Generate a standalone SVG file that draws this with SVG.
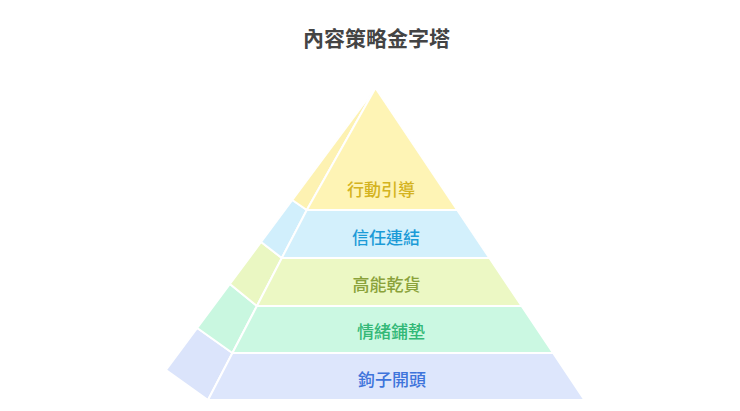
<svg xmlns="http://www.w3.org/2000/svg" width="740" height="411" viewBox="0 0 740 411">
<style>
.f{stroke:#ffffff;stroke-width:2;stroke-linejoin:round}
.t{font-family:"Noto Sans CJK TC","Noto Sans CJK SC",sans-serif;font-size:17px;font-weight:500;text-anchor:middle;dominant-baseline:central}
.title{font-family:"Noto Sans CJK TC","Noto Sans CJK SC",sans-serif;font-size:21px;font-weight:bold;fill:#444444;text-anchor:middle;dominant-baseline:central}
</style>
<rect width="740" height="411" fill="#ffffff"/>
<text class="title" x="376.5" y="37">內容策略金字塔</text>
<g id="layer5">
<polygon class="f" fill="#dbe4fb" points="197.2,328 232.4,353 208,400 166,370"/>
<polygon class="f" fill="#dde6fc" points="232.4,353 553.1,353 584.5,400 208,400"/>
<text class="t" x="392" y="378" fill="#3e74db">鉤子開頭</text>
</g>
<g id="layer4">
<polygon class="f" fill="#c9f7e0" points="229.9,284 256.9,306 232.4,353 197.2,328"/>
<polygon class="f" fill="#cbf8e2" points="256.9,306 521.6,306 553.1,353 232.4,353"/>
<text class="t" x="391" y="330" fill="#33b877">情緒鋪墊</text>
</g>
<g id="layer3">
<polygon class="f" fill="#eaf7c2" points="261.1,242 281.8,258 256.9,306 229.9,284"/>
<polygon class="f" fill="#ecf8c4" points="281.8,258 489.4,258 521.6,306 256.9,306"/>
<text class="t" x="386.5" y="283" fill="#8aa23a">高能乾貨</text>
</g>
<g id="layer2">
<polygon class="f" fill="#d1effc" points="292.3,200 306.8,210 281.8,258 261.1,242"/>
<polygon class="f" fill="#d3f0fc" points="306.8,210 457.2,210 489.4,258 281.8,258"/>
<text class="t" x="386" y="236.5" fill="#1b9bd7">信任連結</text>
</g>
<g id="layer1">
<polygon class="f" fill="#fdf2b2" points="375.5,88 306.8,210 292.3,200"/>
<polygon class="f" fill="#fef4b5" points="375.5,88 457.2,210 306.8,210"/>
<text class="t" x="381" y="188" fill="#d4b320">行動引導</text>
</g>
<g id="connectors"></g>
</svg>
